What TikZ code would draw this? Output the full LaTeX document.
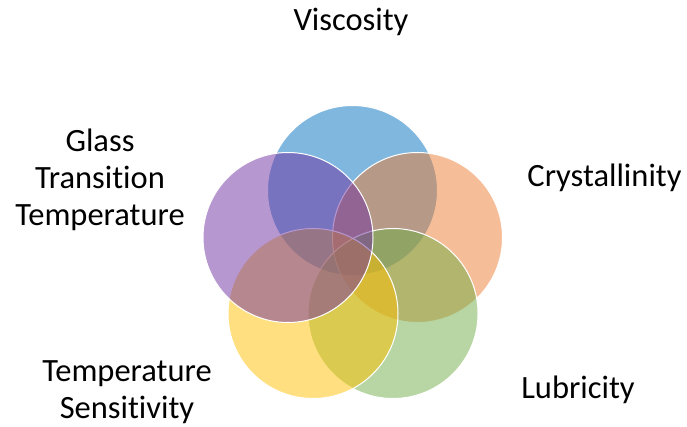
\documentclass[tikz,border=0pt]{standalone}
\usepackage{fontspec}
\setmainfont{Carlito}[Ligatures=NoCommon]
\definecolor{cblue}{HTML}{0070C0}
\definecolor{corange}{HTML}{ED7D31}
\definecolor{cgreen}{HTML}{70AD47}
\definecolor{cyellow}{HTML}{FFC000}
\definecolor{cpurple}{HTML}{7030A0}
\begin{document}
\begin{tikzpicture}[x=1pt,y=-1pt,
  venn/.style={circle, inner sep=0pt, minimum size=170pt, draw=white, line width=1pt, fill opacity=0.5},
  lbl/.style={inner sep=0pt, align=center, font=\fontsize{32.5}{37.3}\selectfont}]
\useasboundingbox (0,0) rectangle (687,427);
% five overlapping circles on a pentagon
\node[venn, fill=cblue]   (cv) at (352.5,190.5) {};
\node[venn, fill=corange] (cc) at (417.5,237.5) {};
\node[venn, fill=cgreen]  (cl) at (393,313.5) {};
\node[venn, fill=cyellow] (cs) at (313,313.5) {};
\node[venn, fill=cpurple] (cg) at (288,237.5) {};
% labels
\node[lbl, anchor=base] (tv) at (351,31) {Viscosity};
\node[lbl, anchor=base] (tc) at (604.5,187) {Crystallinity};
\node[lbl, anchor=base] (tl) at (578,398) {Lubricity};
\node[lbl] (tg) at (100,180) {Glass\\Transition\\Temperature};
\node[lbl] (ts) at (127,392) {Temperature\\Sensitivity};
\end{tikzpicture}
\end{document}
